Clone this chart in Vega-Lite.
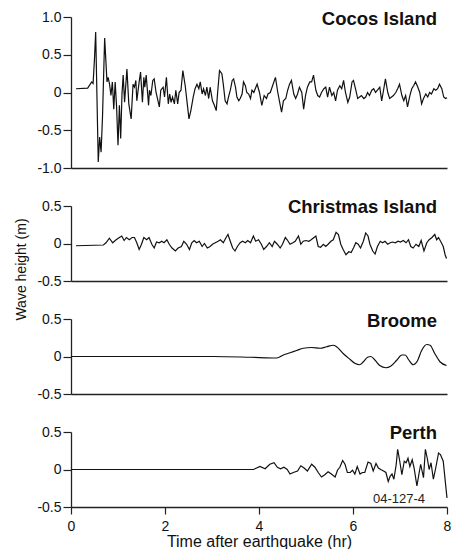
{
  "$schema": "https://vega.github.io/schema/vega-lite/v6.json",
  "padding": {"left": 13, "top": 10, "right": 0, "bottom": 0},
  "background": "white",
  "datasets": {
    "cocos": [
      {"t":0.106,"h":0.05},{"t":0.355,"h":0.057},{"t":0.44,"h":0.14},{"t":0.47,"h":0.12},{"t":0.5,"h":0.45},{"t":0.525,"h":0.8},{"t":0.58,"h":-0.92},{"t":0.61,"h":-0.59},{"t":0.64,"h":-0.79},{"t":0.67,"h":-0.33},{"t":0.716,"h":0.72},{"t":0.766,"h":0.14},{"t":0.79,"h":0.2},{"t":0.82,"h":0.11},{"t":0.85,"h":-0.04},{"t":0.88,"h":0.14},{"t":0.91,"h":-0.22},{"t":0.94,"h":0.14},{"t":0.97,"h":-0.19},{"t":1.0,"h":-0.7},{"t":1.03,"h":-0.17},{"t":1.057,"h":-0.61},{"t":1.085,"h":-0.02},{"t":1.11,"h":0.23},{"t":1.14,"h":-0.13},{"t":1.19,"h":0.31},{"t":1.23,"h":-0.15},{"t":1.28,"h":-0.35},{"t":1.32,"h":0.11},{"t":1.35,"h":0.07},{"t":1.38,"h":0.16},{"t":1.4,"h":-0.11},{"t":1.45,"h":0.14},{"t":1.48,"h":0.27},{"t":1.52,"h":-0.13},{"t":1.55,"h":0.2},{"t":1.57,"h":0.07},{"t":1.6,"h":0.23},{"t":1.65,"h":-0.17},{"t":1.67,"h":0.03},{"t":1.7,"h":-0.04},{"t":1.74,"h":0.16},{"t":1.77,"h":0.18},{"t":1.81,"h":0.0},{"t":1.84,"h":-0.08},{"t":1.88,"h":-0.19},{"t":1.91,"h":0.03},{"t":1.96,"h":0.07},{"t":1.99,"h":-0.06},{"t":2.03,"h":0.2},{"t":2.07,"h":-0.15},{"t":2.1,"h":-0.02},{"t":2.13,"h":-0.13},{"t":2.16,"h":-0.06},{"t":2.2,"h":-0.15},{"t":2.23,"h":0.03},{"t":2.27,"h":-0.15},{"t":2.3,"h":0.0},{"t":2.34,"h":0.03},{"t":2.38,"h":0.29},{"t":2.43,"h":0.09},{"t":2.47,"h":-0.13},{"t":2.51,"h":-0.35},{"t":2.55,"h":-0.24},{"t":2.6,"h":-0.06},{"t":2.64,"h":0.05},{"t":2.68,"h":0.11},{"t":2.72,"h":0.05},{"t":2.75,"h":0.14},{"t":2.79,"h":-0.02},{"t":2.82,"h":0.05},{"t":2.86,"h":-0.04},{"t":2.89,"h":0.07},{"t":2.93,"h":-0.08},{"t":2.96,"h":0.07},{"t":3.01,"h":-0.11},{"t":3.05,"h":-0.17},{"t":3.09,"h":-0.24},{"t":3.12,"h":0.0},{"t":3.16,"h":0.29},{"t":3.21,"h":0.25},{"t":3.24,"h":0.11},{"t":3.28,"h":-0.11},{"t":3.32,"h":-0.15},{"t":3.35,"h":-0.06},{"t":3.39,"h":0.03},{"t":3.43,"h":0.16},{"t":3.46,"h":0.18},{"t":3.5,"h":0.07},{"t":3.53,"h":-0.06},{"t":3.57,"h":-0.11},{"t":3.6,"h":-0.08},{"t":3.64,"h":-0.02},{"t":3.67,"h":0.14},{"t":3.71,"h":0.09},{"t":3.74,"h":0.0},{"t":3.78,"h":-0.02},{"t":3.82,"h":-0.08},{"t":3.85,"h":0.03},{"t":3.89,"h":0.0},{"t":3.92,"h":0.05},{"t":3.96,"h":0.11},{"t":4.01,"h":0.0},{"t":4.06,"h":-0.17},{"t":4.11,"h":-0.04},{"t":4.16,"h":-0.08},{"t":4.19,"h":-0.02},{"t":4.24,"h":0.0},{"t":4.3,"h":0.11},{"t":4.35,"h":0.2},{"t":4.4,"h":0.0},{"t":4.44,"h":-0.13},{"t":4.48,"h":-0.26},{"t":4.52,"h":-0.11},{"t":4.57,"h":-0.08},{"t":4.61,"h":0.03},{"t":4.65,"h":0.11},{"t":4.69,"h":0.16},{"t":4.74,"h":-0.02},{"t":4.78,"h":-0.08},{"t":4.82,"h":-0.02},{"t":4.86,"h":0.07},{"t":4.91,"h":0.0},{"t":4.95,"h":-0.22},{"t":4.99,"h":-0.04},{"t":5.03,"h":0.07},{"t":5.08,"h":0.14},{"t":5.12,"h":0.14},{"t":5.16,"h":0.23},{"t":5.21,"h":0.03},{"t":5.25,"h":-0.04},{"t":5.29,"h":-0.06},{"t":5.33,"h":0.0},{"t":5.38,"h":0.05},{"t":5.42,"h":0.07},{"t":5.46,"h":-0.06},{"t":5.5,"h":0.07},{"t":5.55,"h":-0.04},{"t":5.59,"h":0.0},{"t":5.63,"h":-0.11},{"t":5.67,"h":0.03},{"t":5.72,"h":0.09},{"t":5.76,"h":0.05},{"t":5.8,"h":0.16},{"t":5.84,"h":0.0},{"t":5.89,"h":-0.13},{"t":5.93,"h":-0.06},{"t":5.98,"h":0.14},{"t":6.01,"h":0.16},{"t":6.06,"h":0.03},{"t":6.1,"h":-0.08},{"t":6.14,"h":-0.06},{"t":6.18,"h":-0.04},{"t":6.23,"h":-0.08},{"t":6.27,"h":-0.06},{"t":6.31,"h":0.0},{"t":6.35,"h":-0.04},{"t":6.4,"h":0.03},{"t":6.44,"h":0.05},{"t":6.48,"h":0.0},{"t":6.52,"h":0.03},{"t":6.57,"h":0.07},{"t":6.61,"h":-0.11},{"t":6.65,"h":0.03},{"t":6.69,"h":0.18},{"t":6.74,"h":0.0},{"t":6.78,"h":-0.08},{"t":6.82,"h":-0.06},{"t":6.86,"h":-0.04},{"t":6.91,"h":0.0},{"t":6.95,"h":0.05},{"t":6.99,"h":0.11},{"t":7.04,"h":-0.04},{"t":7.08,"h":-0.11},{"t":7.12,"h":-0.04},{"t":7.16,"h":-0.19},{"t":7.21,"h":-0.04},{"t":7.25,"h":0.05},{"t":7.29,"h":0.09},{"t":7.33,"h":0.14},{"t":7.38,"h":0.07},{"t":7.42,"h":0.0},{"t":7.46,"h":-0.15},{"t":7.5,"h":-0.08},{"t":7.55,"h":-0.02},{"t":7.59,"h":-0.06},{"t":7.63,"h":0.0},{"t":7.67,"h":-0.02},{"t":7.72,"h":0.05},{"t":7.76,"h":0.03},{"t":7.8,"h":0.05},{"t":7.84,"h":0.11},{"t":7.89,"h":0.05},{"t":7.93,"h":-0.06},{"t":7.97,"h":-0.08},{"t":8.0,"h":-0.07}
    ],
    "christmas": [
      {"t":0.106,"h":-0.03},{"t":0.69,"h":-0.02},{"t":0.745,"h":0.01},{"t":0.816,"h":0.07},{"t":0.887,"h":0.01},{"t":0.96,"h":0.05},{"t":1.03,"h":0.08},{"t":1.08,"h":0.1},{"t":1.13,"h":0.04},{"t":1.18,"h":0.08},{"t":1.24,"h":0.05},{"t":1.3,"h":0.08},{"t":1.35,"h":0.08},{"t":1.4,"h":0.01},{"t":1.45,"h":-0.08},{"t":1.5,"h":-0.01},{"t":1.55,"h":0.08},{"t":1.61,"h":0.05},{"t":1.66,"h":0.08},{"t":1.72,"h":-0.01},{"t":1.77,"h":-0.06},{"t":1.82,"h":0.02},{"t":1.88,"h":0.01},{"t":1.93,"h":0.03},{"t":1.98,"h":0.01},{"t":2.04,"h":0.05},{"t":2.09,"h":-0.01},{"t":2.15,"h":-0.06},{"t":2.22,"h":-0.1},{"t":2.28,"h":-0.06},{"t":2.35,"h":-0.04},{"t":2.4,"h":0.03},{"t":2.46,"h":-0.01},{"t":2.52,"h":-0.08},{"t":2.57,"h":0.01},{"t":2.62,"h":0.04},{"t":2.67,"h":0.01},{"t":2.73,"h":0.03},{"t":2.79,"h":-0.04},{"t":2.84,"h":0.0},{"t":2.9,"h":-0.06},{"t":2.96,"h":-0.04},{"t":3.01,"h":-0.01},{"t":3.07,"h":0.01},{"t":3.13,"h":0.03},{"t":3.18,"h":0.05},{"t":3.24,"h":0.01},{"t":3.3,"h":0.08},{"t":3.34,"h":0.12},{"t":3.4,"h":0.01},{"t":3.44,"h":-0.06},{"t":3.49,"h":-0.1},{"t":3.54,"h":-0.04},{"t":3.6,"h":0.01},{"t":3.65,"h":0.03},{"t":3.71,"h":0.01},{"t":3.76,"h":0.04},{"t":3.82,"h":0.01},{"t":3.88,"h":0.1},{"t":3.93,"h":0.03},{"t":3.99,"h":0.05},{"t":4.05,"h":-0.01},{"t":4.1,"h":-0.08},{"t":4.16,"h":-0.04},{"t":4.22,"h":0.01},{"t":4.28,"h":-0.04},{"t":4.33,"h":0.03},{"t":4.39,"h":-0.01},{"t":4.45,"h":-0.06},{"t":4.5,"h":-0.01},{"t":4.56,"h":0.08},{"t":4.6,"h":0.05},{"t":4.66,"h":-0.01},{"t":4.72,"h":0.01},{"t":4.77,"h":0.03},{"t":4.84,"h":0.1},{"t":4.89,"h":-0.01},{"t":4.94,"h":0.03},{"t":5.0,"h":0.04},{"t":5.06,"h":0.03},{"t":5.11,"h":0.05},{"t":5.17,"h":0.08},{"t":5.21,"h":0.1},{"t":5.26,"h":-0.04},{"t":5.31,"h":-0.05},{"t":5.37,"h":-0.01},{"t":5.42,"h":-0.04},{"t":5.47,"h":-0.01},{"t":5.53,"h":0.03},{"t":5.58,"h":0.05},{"t":5.64,"h":0.15},{"t":5.69,"h":0.12},{"t":5.74,"h":-0.01},{"t":5.79,"h":-0.08},{"t":5.85,"h":-0.15},{"t":5.91,"h":-0.11},{"t":5.96,"h":-0.12},{"t":6.01,"h":-0.06},{"t":6.06,"h":0.01},{"t":6.11,"h":-0.01},{"t":6.16,"h":-0.06},{"t":6.22,"h":0.03},{"t":6.27,"h":0.14},{"t":6.32,"h":0.1},{"t":6.36,"h":-0.01},{"t":6.42,"h":-0.1},{"t":6.47,"h":-0.14},{"t":6.52,"h":-0.04},{"t":6.58,"h":0.03},{"t":6.63,"h":0.01},{"t":6.68,"h":0.03},{"t":6.74,"h":-0.01},{"t":6.79,"h":0.01},{"t":6.84,"h":0.02},{"t":6.9,"h":0.01},{"t":6.96,"h":0.03},{"t":7.01,"h":0.02},{"t":7.07,"h":0.04},{"t":7.13,"h":0.01},{"t":7.18,"h":0.05},{"t":7.23,"h":-0.04},{"t":7.28,"h":-0.06},{"t":7.34,"h":-0.01},{"t":7.4,"h":-0.04},{"t":7.45,"h":0.04},{"t":7.51,"h":-0.1},{"t":7.57,"h":0.01},{"t":7.62,"h":0.05},{"t":7.68,"h":0.08},{"t":7.74,"h":0.12},{"t":7.78,"h":0.05},{"t":7.82,"h":0.08},{"t":7.88,"h":0.01},{"t":7.92,"h":-0.04},{"t":7.96,"h":-0.15},{"t":7.99,"h":-0.2}
    ],
    "broome": [
      {"t":0.0,"h":0.0},{"t":3.03,"h":0.0},{"t":3.81,"h":-0.01},{"t":4.38,"h":-0.02},{"t":4.52,"h":0.02},{"t":4.66,"h":0.05},{"t":4.8,"h":0.08},{"t":4.94,"h":0.11},{"t":5.12,"h":0.12},{"t":5.3,"h":0.11},{"t":5.44,"h":0.13},{"t":5.58,"h":0.15},{"t":5.65,"h":0.13},{"t":5.79,"h":0.04},{"t":5.94,"h":-0.04},{"t":6.04,"h":-0.09},{"t":6.14,"h":-0.11},{"t":6.22,"h":-0.07},{"t":6.31,"h":-0.01},{"t":6.38,"h":0.0},{"t":6.47,"h":-0.05},{"t":6.57,"h":-0.12},{"t":6.7,"h":-0.15},{"t":6.8,"h":-0.13},{"t":6.93,"h":-0.05},{"t":7.04,"h":0.02},{"t":7.11,"h":0.02},{"t":7.18,"h":-0.04},{"t":7.28,"h":-0.11},{"t":7.37,"h":-0.06},{"t":7.46,"h":0.08},{"t":7.57,"h":0.16},{"t":7.64,"h":0.15},{"t":7.74,"h":0.04},{"t":7.85,"h":-0.07},{"t":7.99,"h":-0.12}
    ],
    "perth": [
      {"t":0.0,"h":0.0},{"t":3.88,"h":0.0},{"t":3.95,"h":0.02},{"t":4.02,"h":0.04},{"t":4.13,"h":0.01},{"t":4.23,"h":0.07},{"t":4.32,"h":0.09},{"t":4.39,"h":0.03},{"t":4.46,"h":0.01},{"t":4.53,"h":0.03},{"t":4.6,"h":0.0},{"t":4.66,"h":-0.06},{"t":4.73,"h":-0.04},{"t":4.82,"h":-0.02},{"t":4.89,"h":0.05},{"t":4.96,"h":0.02},{"t":5.03,"h":-0.02},{"t":5.12,"h":0.07},{"t":5.19,"h":0.03},{"t":5.26,"h":-0.04},{"t":5.33,"h":-0.1},{"t":5.4,"h":-0.07},{"t":5.47,"h":-0.03},{"t":5.54,"h":-0.06},{"t":5.62,"h":-0.1},{"t":5.67,"h":-0.01},{"t":5.72,"h":0.03},{"t":5.78,"h":0.12},{"t":5.83,"h":0.07},{"t":5.88,"h":-0.04},{"t":5.94,"h":-0.04},{"t":5.99,"h":-0.01},{"t":6.04,"h":-0.06},{"t":6.09,"h":0.04},{"t":6.15,"h":-0.06},{"t":6.2,"h":-0.04},{"t":6.25,"h":-0.04},{"t":6.32,"h":0.1},{"t":6.38,"h":0.08},{"t":6.43,"h":-0.02},{"t":6.49,"h":0.08},{"t":6.54,"h":0.02},{"t":6.59,"h":0.0},{"t":6.65,"h":-0.02},{"t":6.7,"h":-0.04},{"t":6.75,"h":-0.16},{"t":6.79,"h":-0.09},{"t":6.83,"h":-0.06},{"t":6.87,"h":-0.13},{"t":6.92,"h":0.07},{"t":6.95,"h":0.27},{"t":6.99,"h":0.13},{"t":7.04,"h":-0.07},{"t":7.09,"h":0.11},{"t":7.13,"h":0.09},{"t":7.17,"h":0.15},{"t":7.21,"h":0.04},{"t":7.26,"h":0.13},{"t":7.3,"h":0.02},{"t":7.36,"h":-0.22},{"t":7.4,"h":-0.07},{"t":7.44,"h":0.07},{"t":7.5,"h":-0.11},{"t":7.54,"h":0.27},{"t":7.58,"h":0.15},{"t":7.62,"h":0.0},{"t":7.66,"h":0.09},{"t":7.71,"h":-0.13},{"t":7.76,"h":0.02},{"t":7.82,"h":0.22},{"t":7.86,"h":0.2},{"t":7.92,"h":0.11},{"t":7.97,"h":-0.2},{"t":8.0,"h":-0.38}
    ]
  },
  "vconcat": [
    {
      "width": 376, "height": 151,
      "layer": [
        {
          "data": {"name": "cocos"},
          "mark": {"type": "line", "color": "#111", "strokeWidth": 1.2},
          "encoding": {
            "x": {"field": "t", "type": "quantitative", "scale": {"domain": [0, 8]}, "axis": {"labels": false, "ticks": false, "title": null}},
            "y": {"field": "h", "type": "quantitative", "scale": {"domain": [-1, 1]}, "axis": {"values": [-1, -0.5, 0, 0.5, 1], "tickCount": 20, "title": null}}
          }
        },
        {
          "data": {"values": [{"label": "Cocos Island"}]},
          "mark": {"type": "text", "align": "right", "baseline": "alphabetic", "dx": -10, "dy": 8, "fontSize": 18.5, "fontWeight": "bold", "font": "Liberation Sans", "color": "#111"},
          "encoding": {"x": {"datum": 8}, "y": {"datum": 1}, "text": {"field": "label"}}
        }
      ]
    },
    {
      "width": 376, "height": 75,
      "layer": [
        {
          "data": {"name": "christmas"},
          "mark": {"type": "line", "color": "#111", "strokeWidth": 1.2},
          "encoding": {
            "x": {"field": "t", "type": "quantitative", "scale": {"domain": [0, 8]}, "axis": {"labels": false, "ticks": false, "title": null}},
            "y": {"field": "h", "type": "quantitative", "scale": {"domain": [-0.5, 0.5]}, "axis": {"values": [-0.5, 0, 0.5], "tickCount": 20, "title": "Wave height (m)", "titleX": -50, "titleY": 63, "titleAngle": -90, "titleAlign": "center", "titleBaseline": "middle", "titleFont": "Liberation Sans", "titleFontSize": 14, "titleFontWeight": "normal", "titleColor": "#111"}}
          }
        },
        {
          "data": {"values": [{"label": "Christmas Island"}]},
          "mark": {"type": "text", "align": "right", "baseline": "alphabetic", "dx": -10, "dy": 7, "fontSize": 18.5, "fontWeight": "bold", "font": "Liberation Sans", "color": "#111"},
          "encoding": {"x": {"datum": 8}, "y": {"datum": 0.5}, "text": {"field": "label"}}
        }
      ]
    },
    {
      "width": 376, "height": 75,
      "layer": [
        {
          "data": {"name": "broome"},
          "mark": {"type": "line", "color": "#111", "strokeWidth": 1.2, "interpolate": "monotone"},
          "encoding": {
            "x": {"field": "t", "type": "quantitative", "scale": {"domain": [0, 8]}, "axis": {"labels": false, "ticks": false, "title": null}},
            "y": {"field": "h", "type": "quantitative", "scale": {"domain": [-0.5, 0.5]}, "axis": {"values": [-0.5, 0, 0.5], "tickCount": 20, "title": null}}
          }
        },
        {
          "data": {"values": [{"label": "Broome"}]},
          "mark": {"type": "text", "align": "right", "baseline": "alphabetic", "dx": -10, "dy": 8, "fontSize": 18.5, "fontWeight": "bold", "font": "Liberation Sans", "color": "#111"},
          "encoding": {"x": {"datum": 8}, "y": {"datum": 0.5}, "text": {"field": "label"}}
        }
      ]
    },
    {
      "width": 376, "height": 75,
      "layer": [
        {
          "data": {"name": "perth"},
          "mark": {"type": "line", "color": "#111", "strokeWidth": 1.2},
          "encoding": {
            "x": {"field": "t", "type": "quantitative", "scale": {"domain": [0, 8]}, "axis": {"values": [0, 2, 4, 6, 8], "tickCount": 20, "format": "d", "tickSize": 7, "labelPadding": 5, "title": "Time after earthquake (hr)", "titleFontSize": 16, "titleFontWeight": "normal", "titlePadding": 0, "titleColor": "#111"}},
            "y": {"field": "h", "type": "quantitative", "scale": {"domain": [-0.5, 0.5]}, "axis": {"values": [-0.5, 0, 0.5], "tickCount": 20, "title": null}}
          }
        },
        {
          "data": {"values": [{"label": "Perth"}]},
          "mark": {"type": "text", "align": "right", "baseline": "alphabetic", "dx": -10, "dy": 7, "fontSize": 18.5, "fontWeight": "bold", "font": "Liberation Sans", "color": "#111"},
          "encoding": {"x": {"datum": 8}, "y": {"datum": 0.5}, "text": {"field": "label"}}
        },
        {
          "data": {"values": [{"label": "04-127-4"}]},
          "mark": {"type": "text", "align": "right", "baseline": "alphabetic", "dx": -22, "dy": -4, "fontSize": 13, "font": "Liberation Sans", "color": "#222"},
          "encoding": {"x": {"datum": 8}, "y": {"datum": -0.5}, "text": {"field": "label"}}
        }
      ]
    }
  ],
  "spacing": 38,
  "bounds": "flush",
  "config": {
    "view": {"stroke": null},
    "font": "Liberation Sans",
    "axis": {
      "grid": false,
      "domainColor": "#222",
      "domainWidth": 1.3,
      "tickColor": "#222",
      "tickWidth": 1.2,
      "tickSize": 8,
      "labelFont": "Liberation Sans",
      "labelFontSize": 14,
      "labelColor": "#111",
      "labelPadding": 2,
      "labelFlush": false,
      "labelOverlap": false,
      "titleFont": "Liberation Sans"
    },
    "axisY": {
      "labelExpr": "datum.value == 0 ? '0' : (datum.value < 0 ? '-' : '') + format(abs(datum.value), '.1f')"
    }
  }
}
